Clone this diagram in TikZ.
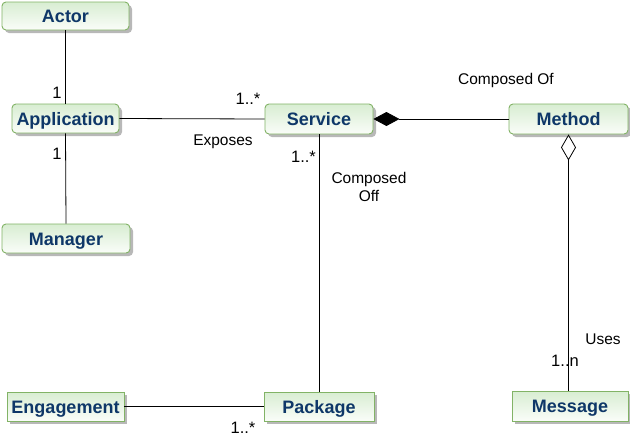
\documentclass[tikz,border=0pt]{standalone}
\usepackage{fontspec}
\setmainfont{Liberation Sans}
\usetikzlibrary{shadows,arrows.meta}
\definecolor{boxborder}{HTML}{82B366}
\definecolor{boxtop}{HTML}{D8EDD2}
\definecolor{boxbot}{HTML}{FAFDF9}
\definecolor{boxtext}{HTML}{0E3768}
\begin{document}
\begin{tikzpicture}[x=1pt,y=-1pt,
  cls/.style={draw=boxborder,line width=0.9pt,top color=boxtop,bottom color=boxbot,
    text=boxtext,font=\fontsize{18}{20}\selectfont\bfseries,inner sep=0pt,
    text height=13pt,text depth=0pt,
    drop shadow={shadow xshift=3pt,shadow yshift=-3pt,fill=black!28,opacity=1}},
  rcls/.style={cls,rounded corners=4pt},
  lbl/.style={font=\fontsize{15.5}{18}\selectfont,inner sep=0pt,align=center},
  mult/.style={font=\fontsize{16.5}{18}\selectfont,inner sep=0pt},
  conn/.style={draw=black,line width=0.8pt}]
\useasboundingbox (0,0) rectangle (630,437);
\fill[white] (0,0) rectangle (630,437);
\node[rcls,minimum width=127pt,minimum height=28pt] (actor) at (65.5,16) {Actor};
\node[rcls,minimum width=107pt,minimum height=29pt] (app) at (65.5,118.5) {Application};
\node[rcls,minimum width=128pt,minimum height=29pt] (manager) at (66,238.5) {Manager};
\node[cls,minimum width=117pt,minimum height=29pt] (engage) at (65.5,406.5) {Engagement};
\node[cls,minimum width=110pt,minimum height=29pt] (package) at (319,406.5) {Package};
\node[rcls,minimum width=108pt,minimum height=30pt] (service) at (319,119) {Service};
\node[rcls,minimum width=119pt,minimum height=30pt] (method) at (568.5,119) {Method};
\node[cls,minimum width=116pt,minimum height=30pt] (message) at (570,406) {Message};

\draw[conn] (actor.south) -- (app.north);
\draw[conn] (app.south) -- (manager.north);
\draw[conn] (app.east) -- (service.west);
\draw[conn,{Diamond[length=26pt,width=14pt]}-] (service.east) -- (method.west);
\draw[conn] (service.south) -- (package.north);
\draw[conn] (engage.east) -- (package.west);
\draw[conn,{Diamond[open,fill=white,length=26pt,width=15pt]}-] (method.south) -- (method.south |- message.north);

\node[mult] (m1) at (57,93) {1};
\node[mult] (m2) at (57,154) {1};
\node[mult] (m3) at (248,99) {1..*};
\node[lbl] (exposes) at (223,142) {Exposes};
\node[mult] (m4) at (303.5,157) {1..*};
\node[lbl] (compoff) at (369,187) {Composed\\Off};
\node[lbl] (compof) at (506,80) {Composed Of};
\node[lbl] (uses) at (603,339) {Uses};
\node[mult] (m5) at (565,361) {1..n};
\node[mult] (m6) at (243,428) {1..*};
\end{tikzpicture}
\end{document}
